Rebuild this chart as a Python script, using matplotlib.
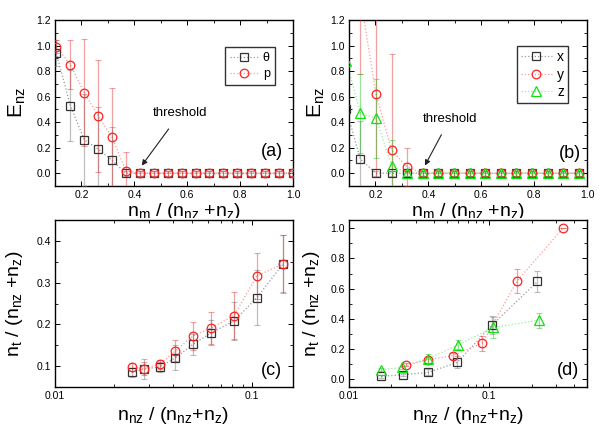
import numpy as np
import matplotlib
matplotlib.use('Agg')
import matplotlib.pyplot as plt
from matplotlib.lines import Line2D
from matplotlib.ticker import MultipleLocator, LogLocator, NullFormatter, FixedFormatter, FixedLocator
from matplotlib.transforms import Bbox, TransformedBbox

plt.rcParams['font.family'] = ['Liberation Sans', 'DejaVu Sans']
plt.rcParams['mathtext.fontset'] = 'custom'
plt.rcParams['mathtext.rm'] = 'Liberation Sans'
plt.rcParams['mathtext.it'] = 'Liberation Sans'
plt.rcParams['mathtext.default'] = 'regular'

# (a) E_nz vs n_m/(n_nz+n_z), theta and p
xa = [0.105, 0.158, 0.211, 0.263, 0.316, 0.368, 0.421, 0.474, 0.526,
      0.579, 0.632, 0.684, 0.737, 0.789, 0.842, 0.895, 0.947, 1.0]
a_theta = [0.94, 0.53, 0.26, 0.19, 0.10, 0.0, 0, 0, 0, 0, 0, 0, 0, 0, 0, 0, 0, 0]
a_theta_err = [0.1, 0.275, 0.36, 0.33, 0.26, 0.02, 0.02, 0.02, 0.02, 0.02,
               0.02, 0.02, 0.02, 0.02, 0.02, 0.02, 0.02, 0.02]
a_p = [0.99, 0.85, 0.63, 0.45, 0.28, 0.02, 0, 0, 0, 0, 0, 0, 0, 0, 0, 0, 0, 0]
a_p_err = [0.05, 0.19, 0.42, 0.44, 0.39, 0.15, 0.02, 0.02, 0.02, 0.02,
           0.02, 0.02, 0.02, 0.02, 0.02, 0.02, 0.02, 0.02]

# (b) E_nz vs n_m/(n_nz+n_z), x y z
xb = [0.09, 0.143, 0.202, 0.261, 0.32, 0.379, 0.438, 0.497, 0.556,
      0.615, 0.674, 0.733, 0.792, 0.851, 0.91, 0.969]
b_x = [0.5, 0.11, 0, 0, 0, 0, 0, 0, 0, 0, 0, 0, 0, 0, 0, 0]
b_x_err = [0.2, 0.3, 0.02, 0.02, 0.02, 0.02, 0.02, 0.02, 0.02, 0.02, 0.02,
           0.02, 0.02, 0.02, 0.02, 0.02]
b_y = [1.6, 1.38, 0.62, 0.18, 0.05, 0, 0, 0, 0, 0, 0, 0, 0, 0, 0, 0]
b_y_err = [0.5, 0.6, 0.65, 0.75, 0.15, 0.02, 0.02, 0.02, 0.02, 0.02, 0.02,
           0.02, 0.02, 0.02, 0.02, 0.02]
b_z = [0.88, 0.47, 0.43, 0.06, 0, 0, 0, 0, 0, 0, 0, 0, 0, 0, 0, 0]
b_z_err = [0.3, 0.31, 0.31, 0.2, 0.02, 0.02, 0.02, 0.02, 0.02, 0.02, 0.02,
           0.02, 0.02, 0.02, 0.02, 0.02]

# (c) n_t/(n_nz+n_z) vs n_nz/(n_nz+n_z), theta and p
xc = [0.0247, 0.0285, 0.0341, 0.041, 0.0503, 0.0625, 0.0815, 0.1064, 0.145]
c_theta = [0.085, 0.093, 0.098, 0.12, 0.152, 0.18, 0.208, 0.264, 0.345]
c_theta_err = [0.01, 0.025, 0.012, 0.03, 0.026, 0.03, 0.046, 0.066, 0.068]
c_p = [0.098, 0.094, 0.104, 0.137, 0.172, 0.192, 0.221, 0.316, 0.345]
c_p_err = [0.01, 0.015, 0.01, 0.025, 0.033, 0.038, 0.056, 0.055, 0.07]

# (d) n_t/(n_nz+n_z) vs n_nz/(n_nz+n_z), x y z
xd_x = [0.017, 0.0243, 0.0367, 0.059, 0.105, 0.22]
d_x = [0.018, 0.029, 0.044, 0.11, 0.36, 0.647]
d_x_err = [0.01, 0.01, 0.02, 0.04, 0.06, 0.07]
xd_y = [0.0254, 0.0367, 0.0547, 0.089, 0.1585, 0.334]
d_y = [0.095, 0.128, 0.155, 0.238, 0.653, 1.0]
d_y_err = [0.01, 0.02, 0.02, 0.05, 0.08, 0.0]
xd_z = [0.017, 0.024, 0.0367, 0.06, 0.107, 0.224]
d_z = [0.062, 0.077, 0.135, 0.227, 0.342, 0.39]
d_z_err = [0.01, 0.01, 0.03, 0.03, 0.07, 0.05]

BLACK = '#333333'
RED = '#ff2020'
GREEN = '#10e010'
styles = {
    'sq': dict(marker='s', ms=5.2, mec=BLACK, line='#9a9a9a', err='#707070'),
    'ci': dict(marker='o', ms=6.2, mec=RED, line='#ff9a9a', err='#e03030'),
    'tr': dict(marker='^', ms=7, mec=GREEN, line='#90f090', err='#20c020'),
}


def series(ax, x, y, err, key):
    st = styles[key]
    ax.plot(x, y, ls=':', lw=0.9, color=st['line'], zorder=2)
    ax.errorbar(x, y, yerr=err, fmt='none', ecolor=st['err'], elinewidth=0.9,
                capsize=2, capthick=0.8, alpha=0.45, zorder=3)
    ax.plot(x, y, ls='none', marker=st['marker'], ms=st['ms'], mfc='none',
            mec=st['mec'], mew=0.9, zorder=4)


def handle(key):
    st = styles[key]
    return Line2D([], [], ls=':', lw=0.9, color=st['line'], marker=st['marker'],
                  ms=st['ms'], mfc='none', mec=st['mec'], mew=0.9)


def style_axes(ax):
    ax.tick_params(which='both', direction='in', top=True, right=True,
                   labelsize=7.5, pad=3)
    ax.tick_params(which='major', length=3.5, width=0.7)
    ax.tick_params(which='minor', length=2, width=0.6)
    for s in ax.spines.values():
        s.set_linewidth(1.0)


fig = plt.figure(figsize=(6.05, 4.3), dpi=100)
W, H = 605.0, 430.0
axa = fig.add_axes([55 / W, 1 - 186 / H, 238 / W, 166 / H])
axb = fig.add_axes([349 / W, 1 - 186 / H, 238 / W, 166 / H])
axc = fig.add_axes([55 / W, 1 - 387 / H, 238 / W, 167 / H])
axd = fig.add_axes([349 / W, 1 - 387 / H, 238 / W, 167 / H])

# (a)
series(axa, xa, a_theta, a_theta_err, 'sq')
series(axa, xa, a_p, a_p_err, 'ci')
axa.legend([handle('sq'), handle('ci')], ['\u03b8', 'p'], loc='upper left',
           bbox_to_anchor=(0.689, 0.873), fontsize=9, frameon=True,
           fancybox=False, edgecolor='black', handlelength=2.2,
           borderpad=0.4, labelspacing=0.3, handletextpad=0.4)
axa.annotate('threshold', xy=(0.428, 0.06), xytext=(0.573, 0.468),
             ha='center', va='center', fontsize=9.5,
             arrowprops=dict(arrowstyle='-|>', color='#222222', lw=0.8,
                             mutation_scale=8, shrinkA=6, shrinkB=0))

# (b)
series(axb, xb, b_x, b_x_err, 'sq')
series(axb, xb, b_y, b_y_err, 'ci')
series(axb, xb, b_z, b_z_err, 'tr')
axb.legend([handle('sq'), handle('ci'), handle('tr')], ['x', 'y', 'z'],
           loc='upper left', bbox_to_anchor=(0.676, 0.886), fontsize=10,
           frameon=True, fancybox=False, edgecolor='black', handlelength=2.2,
           borderpad=0.3, labelspacing=0.25, handletextpad=0.4)
axb.annotate('threshold', xy=(0.387, 0.06), xytext=(0.482, 0.428),
             ha='center', va='center', fontsize=9.5,
             arrowprops=dict(arrowstyle='-|>', color='#222222', lw=0.8,
                             mutation_scale=8, shrinkA=6, shrinkB=0))

for ax in (axa, axb):
    ax.set_xlim(0.1, 1.0)
    ax.set_ylim(-0.1, 1.2)
    ax.xaxis.set_major_locator(MultipleLocator(0.2))
    ax.xaxis.set_minor_locator(MultipleLocator(0.1))
    ax.yaxis.set_major_locator(MultipleLocator(0.2))
    ax.yaxis.set_minor_locator(MultipleLocator(0.1))
    ax.yaxis.set_major_formatter(plt.FormatStrFormatter('%.1f'))
    ax.xaxis.set_major_formatter(plt.FormatStrFormatter('%.1f'))
    ax.set_ylabel(r'$E_{nz}$', fontsize=15)
    ax.set_xlabel(r'$n_m$ / ($n_{nz}$ +$n_z$)', fontsize=14)
    style_axes(ax)

# (c)
series(axc, xc, c_theta, c_theta_err, 'sq')
series(axc, xc, c_p, c_p_err, 'ci')
axc.set_xlim(0.01, 0.1626)
axc.set_ylim(0.05, 0.45)
axc.yaxis.set_major_locator(MultipleLocator(0.1))
axc.yaxis.set_minor_locator(MultipleLocator(0.05))

# (d)
series(axd, xd_x, d_x, d_x_err, 'sq')
series(axd, xd_y, d_y, d_y_err, 'ci')
series(axd, xd_z, d_z, d_z_err, 'tr')
axd.set_xlim(0.01, 0.496)
axd.set_ylim(-0.053, 1.055)
axd.yaxis.set_major_locator(MultipleLocator(0.2))
axd.yaxis.set_minor_locator(MultipleLocator(0.1))

for ax in (axc, axd):
    ax.set_xscale('log')
    ax.xaxis.set_major_locator(FixedLocator([0.01, 0.1]))
    ax.xaxis.set_major_formatter(FixedFormatter(['0.01', '0.1']))
    ax.xaxis.set_minor_locator(LogLocator(base=10, subs=np.arange(2, 10)))
    ax.xaxis.set_minor_formatter(NullFormatter())
    ax.yaxis.set_major_formatter(plt.FormatStrFormatter('%.1f'))
    ax.set_ylabel(r'$n_t$ / ($n_{nz}$ +$n_z$)', fontsize=14)
    ax.set_xlabel(r'$n_{nz}$ / ($n_{nz}$+$n_z$)', fontsize=14)
    style_axes(ax)

# label placement
axa.yaxis.set_label_coords(-0.113, 0.5)
axb.yaxis.set_label_coords(-0.092, 0.5)
axc.yaxis.set_label_coords(-0.126, 0.5)
axd.yaxis.set_label_coords(-0.113, 0.5)
axa.xaxis.set_label_coords(0.54, -0.09)
axb.xaxis.set_label_coords(0.5, -0.09)
axc.xaxis.set_label_coords(0.494, -0.11)
axd.xaxis.set_label_coords(0.5, -0.11)

# the top row x labels are cut by the lower panels
clip = TransformedBbox(Bbox([[0, 1 - 218 / H], [1, 1]]), fig.transFigure)
for ax in (axa, axb):
    ax.xaxis.label.set_clip_box(clip)
    ax.xaxis.label.set_clip_on(True)

for ax, lab, pos in ((axa, '(a)', (0.91, 0.207)), (axb, '(b)', (0.929, 0.193)),
                     (axc, '(c)', (0.91, 0.10)), (axd, '(d)', (0.921, 0.10))):
    ax.text(pos[0], pos[1], lab, transform=ax.transAxes, ha='center',
            va='center', fontsize=13)

fig.savefig('out.png', dpi=100)
